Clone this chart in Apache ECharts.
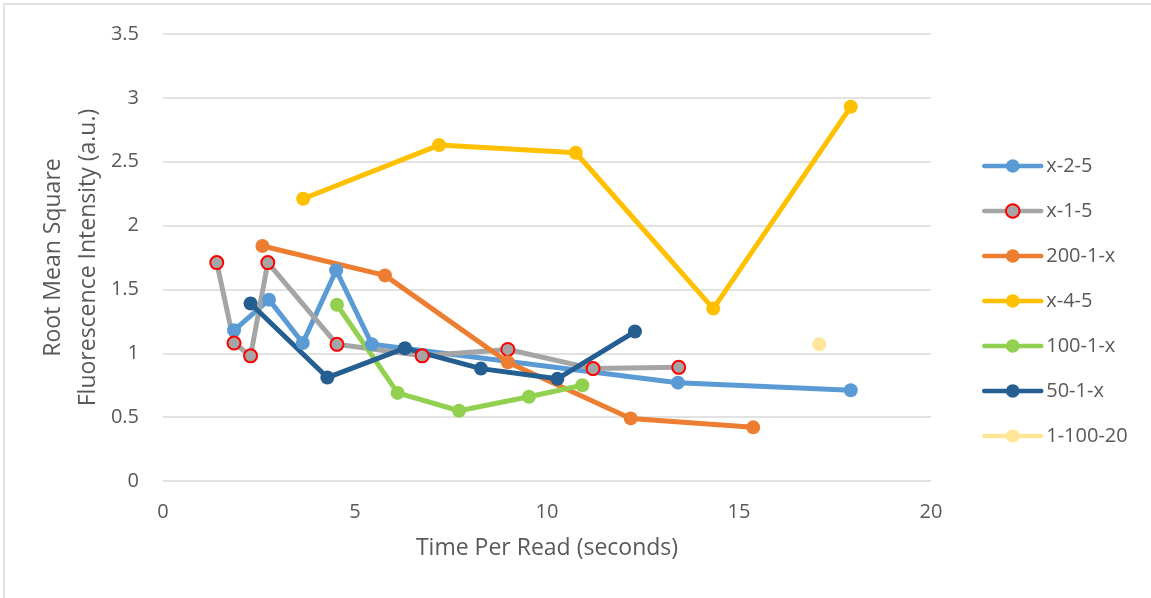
<!DOCTYPE html>
<html>
<head>
<meta charset="utf-8">
<title>Root Mean Square Fluorescence Intensity vs Time Per Read</title>
<script src="https://cdn.jsdelivr.net/npm/echarts@6/dist/echarts.min.js"></script>
<style>
  html, body { margin: 0; padding: 0; background: #ffffff; }
  #chart { width: 1151px; height: 598px; }
</style>
</head>
<body>
<div id="chart"></div>
<script>
// Time per read (seconds) and RMS fluorescence intensity (a.u.) for each setting
const x25Time   = [1.85, 2.76, 3.64, 4.51, 5.44, 13.41, 17.91];
const x25Rms    = [1.18, 1.42, 1.08, 1.65, 1.07, 0.77, 0.71];

const x15Time   = [1.40, 1.85, 2.28, 2.73, 4.53, 6.75, 8.98, 11.20, 13.43];
const x15Rms    = [1.71, 1.08, 0.98, 1.71, 1.07, 0.98, 1.03, 0.88, 0.89];

const s2001xTime = [2.59, 5.78, 8.98, 12.18, 15.37];
const s2001xRms  = [1.84, 1.61, 0.93, 0.49, 0.42];

const x45Time   = [3.65, 7.19, 10.75, 14.33, 17.91];
const x45Rms    = [2.21, 2.63, 2.57, 1.35, 2.93];

const s1001xTime = [4.53, 6.11, 7.71, 9.53, 10.92];
const s1001xRms  = [1.38, 0.69, 0.55, 0.66, 0.75];

const s501xTime = [2.28, 4.28, 6.30, 8.28, 10.27, 12.29];
const s501xRms  = [1.39, 0.81, 1.04, 0.88, 0.80, 1.17];

const s110020Time = [17.09];
const s110020Rms  = [1.07];

const seriesNames = ['x-2-5', 'x-1-5', '200-1-x', 'x-4-5', '100-1-x', '50-1-x', '1-100-20'];
const xTicks = { min: 0, max: 20, interval: 5 };
const yTicks = { min: 0, max: 3.5, interval: 0.5 };

function pairs(xs, ys) {
  return xs.map((x, i) => [x, ys[i]]);
}

const textColor = '#595959';
const fontFamily = '"Open Sans", "Liberation Sans", sans-serif';

function lineSeries(name, xs, ys, color, extra) {
  return Object.assign({
    name: name,
    type: 'line',
    data: pairs(xs, ys),
    symbol: 'circle',
    symbolSize: 14,
    showSymbol: true,
    lineStyle: { color: color, width: 5, cap: 'round', join: 'round' },
    itemStyle: { color: color },
    emphasis: { disabled: true }
  }, extra || {});
}

const chart = echarts.init(document.getElementById('chart'), null, { renderer: 'canvas' });

chart.setOption({
  animation: false,
  backgroundColor: '#ffffff',
  textStyle: { fontFamily: fontFamily, color: textColor },
  graphic: [{
    type: 'rect',
    shape: { x: 4, y: 4, width: 1300, height: 800 },
    style: { fill: null, stroke: '#d9d9d9', lineWidth: 1.5 },
    silent: true,
    z: -10
  }],
  grid: { left: 163, right: 220, top: 34, bottom: 117, containLabel: false },
  legend: {
    orient: 'vertical',
    left: 977,
    top: 151,
    itemWidth: 57,
    itemHeight: 17,
    itemGap: 25,
    data: seriesNames,
    lineStyle: { width: 4.5 },
    textStyle: { color: textColor, fontSize: 20, fontFamily: fontFamily }
  },
  xAxis: {
    type: 'value',
    min: xTicks.min,
    max: xTicks.max,
    interval: xTicks.interval,
    name: 'Time Per Read (seconds)',
    nameLocation: 'middle',
    nameGap: 56,
    nameMoveOverlap: false,
    nameTextStyle: { fontSize: 23, color: textColor, fontFamily: fontFamily },
    axisLine: { show: false },
    axisTick: { show: false },
    axisLabel: { fontSize: 20, color: textColor, margin: 21, fontFamily: fontFamily },
    splitLine: { show: false }
  },
  yAxis: {
    type: 'value',
    min: yTicks.min,
    max: yTicks.max,
    interval: yTicks.interval,
    name: 'Root Mean Square\nFluorescence Intensity (a.u.)',
    nameLocation: 'middle',
    nameGap: 57,
    nameMoveOverlap: false,
    nameTextStyle: { fontSize: 23, color: textColor, lineHeight: 35, fontFamily: fontFamily },
    axisLine: { show: false },
    axisTick: { show: false },
    axisLabel: { fontSize: 20, color: textColor, margin: 24, fontFamily: fontFamily },
    splitLine: { show: true, lineStyle: { color: '#d9d9d9', width: 1.5 } }
  },
  series: [
    lineSeries(seriesNames[0], x25Time, x25Rms, '#5B9BD5'),
    lineSeries(seriesNames[1], x15Time, x15Rms, '#A5A5A5', {
      symbolSize: 13,
      itemStyle: { color: '#A5A5A5', borderColor: '#FF0000', borderWidth: 2 }
    }),
    lineSeries(seriesNames[2], s2001xTime, s2001xRms, '#ED7D31'),
    lineSeries(seriesNames[3], x45Time, x45Rms, '#FFC000'),
    lineSeries(seriesNames[4], s1001xTime, s1001xRms, '#92D050'),
    lineSeries(seriesNames[5], s501xTime, s501xRms, '#255E91'),
    lineSeries(seriesNames[6], s110020Time, s110020Rms, '#FFE699')
  ]
});
</script>
</body>
</html>
